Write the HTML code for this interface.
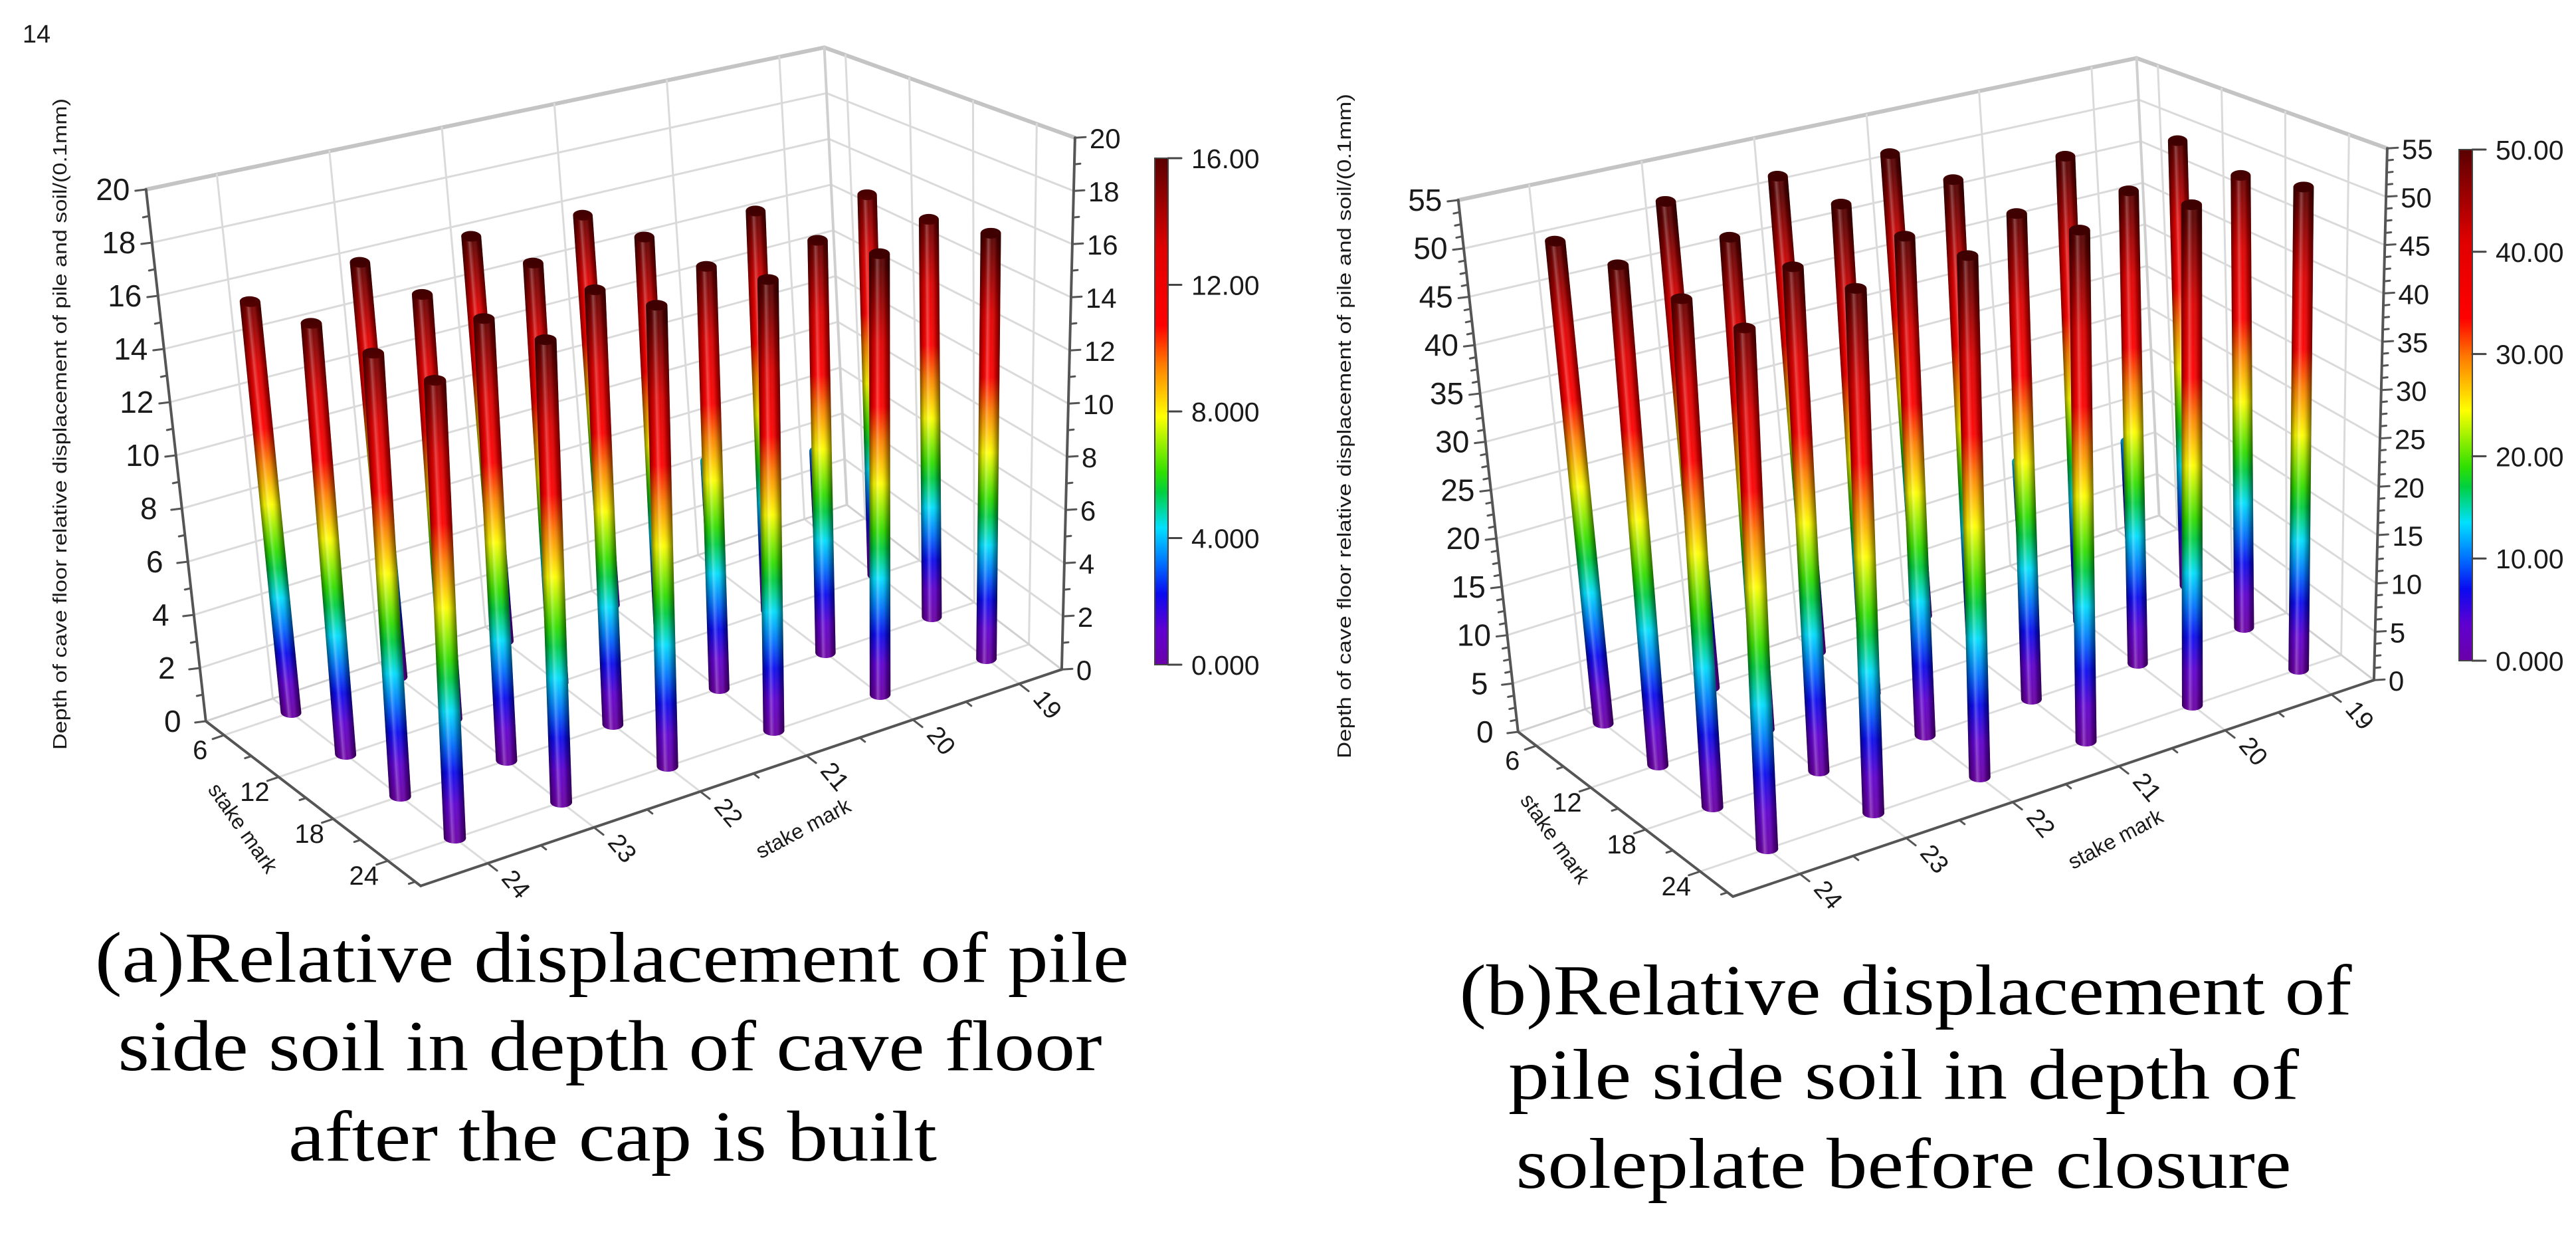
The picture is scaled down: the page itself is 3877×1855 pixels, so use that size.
<!DOCTYPE html>
<html>
<head>
<meta charset="utf-8">
<style>
  html, body { margin: 0; padding: 0; background: #ffffff; }
  svg { display: block; }
  .ax { font-family: "Liberation Sans", "DejaVu Sans", sans-serif; fill: #1a1a1a; }
  .cap { font-family: "Liberation Serif", "DejaVu Serif", serif; fill: #000; }
</style>
</head>
<body>
<svg id="root" width="3877" height="1855" viewBox="0 0 3877 1855" xmlns="http://www.w3.org/2000/svg">
  <defs>
    <linearGradient id="shade" x1="0" y1="0" x2="1" y2="0">
      <stop offset="0" stop-color="#000" stop-opacity="0.5"/>
      <stop offset="0.22" stop-color="#000" stop-opacity="0.08"/>
      <stop offset="0.38" stop-color="#fff" stop-opacity="0.28"/>
      <stop offset="0.55" stop-color="#fff" stop-opacity="0.04"/>
      <stop offset="0.8" stop-color="#000" stop-opacity="0.22"/>
      <stop offset="1" stop-color="#000" stop-opacity="0.55"/>
    </linearGradient>
    <linearGradient id="cbar" x1="0" y1="1" x2="0" y2="0">
      <stop offset="0" stop-color="#6a00a8"/>
      <stop offset="0.07" stop-color="#6000d0"/>
      <stop offset="0.14" stop-color="#0a0af0"/>
      <stop offset="0.2" stop-color="#0070ff"/>
      <stop offset="0.27" stop-color="#00e0ff"/>
      <stop offset="0.34" stop-color="#00d040"/>
      <stop offset="0.38" stop-color="#30e000"/>
      <stop offset="0.49" stop-color="#ffff00"/>
      <stop offset="0.59" stop-color="#ff8000"/>
      <stop offset="0.67" stop-color="#ff0000"/>
      <stop offset="0.82" stop-color="#e00000"/>
      <stop offset="1" stop-color="#5a0000"/>
    </linearGradient>
  </defs>
  <rect x="0" y="0" width="3877" height="1855" fill="#ffffff"/>
  <text class="ax" x="55" y="64" font-size="38" text-anchor="middle">14</text>

  <text class="cap" x="921" y="1477" font-size="108" text-anchor="middle" textLength="1556" lengthAdjust="spacingAndGlyphs">(a)Relative displacement of pile</text>
  <text class="cap" x="918" y="1610" font-size="108" text-anchor="middle" textLength="1481" lengthAdjust="spacingAndGlyphs">side soil in depth of cave floor</text>
  <text class="cap" x="922" y="1746" font-size="108" text-anchor="middle" textLength="976" lengthAdjust="spacingAndGlyphs">after the cap is built</text>

  <text class="cap" x="2868" y="1526" font-size="108" text-anchor="middle" textLength="1343" lengthAdjust="spacingAndGlyphs">(b)Relative displacement of</text>
  <text class="cap" x="2865" y="1653" font-size="108" text-anchor="middle" textLength="1190" lengthAdjust="spacingAndGlyphs">pile side soil in depth of</text>
  <text class="cap" x="2865" y="1787" font-size="108" text-anchor="middle" textLength="1167" lengthAdjust="spacingAndGlyphs">soleplate before closure</text>
</svg>

<script>
// ---- data ----
const stakeU = [6, 12, 18, 24];          // stake mark along front-left axis
const stakeV = [19, 20, 21, 22, 23, 24]; // stake mark along front-right axis

// chart (a): values per u-row, ordered by stakeV
const valsA_u6  = [3.5, 4.5, 15.8, 16.0, 16.0, 15.5];
const valsA_u12 = [15.6, 16.0, 16.0, 16.0, 15.8, 15.7];
const valsA_u18 = [15.7, 15.9, 15.9, 16.0, 15.9, 15.6];
const valsA_u24 = [16.2, 16.4, 16.4, 16.4, 16.1, 15.6];

// chart (b)
const valsB_u6  = [12.0, 13.5, 51.5, 51.7, 51.6, 50.0];
const valsB_u12 = [50.2, 51.2, 51.3, 51.3, 50.4, 50.1];
const valsB_u18 = [49.1, 50.1, 50.3, 50.5, 49.9, 49.2];
const valsB_u24 = [50.5, 51.2, 51.1, 51.0, 50.2, 48.8];

const zTicksA = [0, 2, 4, 6, 8, 10, 12, 14, 16, 18, 20];
const zTicksB = [0, 5, 10, 15, 20, 25, 30, 35, 40, 45, 50, 55];
const cbarLabelsA = ["0.000", "4.000", "8.000", "12.00", "16.00"];
const cbarValuesA = [0, 4, 8, 12, 16];
const cbarLabelsB = ["0.000", "10.00", "20.00", "30.00", "40.00", "50.00"];
const cbarValuesB = [0, 10, 20, 30, 40, 50];

// ---- geometry ----
const NS = "http://www.w3.org/2000/svg";
const svg = document.getElementById("root");
const U_MIN = 4, U_MAX = 27.6, V_MIN = 18.6, V_MAX = 24.63;
const CMAP = [[0,"#6a00a8"],[0.07,"#6000d0"],[0.14,"#0a0af0"],[0.2,"#0070ff"],[0.27,"#00e0ff"],
  [0.34,"#00d040"],[0.38,"#30e000"],[0.49,"#ffff00"],[0.59,"#ff8000"],[0.67,"#ff0000"],[0.82,"#e00000"],[1,"#5a0000"]];

function el(tag, attrs, parent) {
  const e = document.createElementNS(NS, tag);
  for (const k in attrs) e.setAttribute(k, attrs[k]);
  (parent || svg).appendChild(e);
  return e;
}

function makeChart(cfg) {
  const g = el("g", {});
  
  

  const floor = (u, v) => [438 + cfg.ox + (u - 6) * 13.7 + (24 - v) * 160,
                           1072 + cfg.oy + (u - 6) * 10.5 - (24 - v) * 54];
  const hv = (u, v) => {
    const s = (u - U_MIN) / (U_MAX - U_MIN), t = (V_MAX - v) / (V_MAX - V_MIN);
    const wL = (1 - s) * (1 - t), wF = s * (1 - t), wB = (1 - s) * t, wR = s * t;
    const x = -90 * wL - 36 * wF - 34 * wB + 20 * wR;
    const y = -800 * wL - 912 * wF - 688 * wB - 800 * wR;
    return [x / cfg.zmax, y / cfg.zmax];
  };
  const P = (u, v, z) => { const f = floor(u, v), h = hv(u, v); return [f[0] + z * h[0], f[1] + z * h[1]]; };
  const line = (a, b, stroke, w, name) => {
    const l = el("line", {x1: a[0], y1: a[1], x2: b[0], y2: b[1], stroke: stroke, "stroke-width": w, "stroke-linecap": "round"}, g);
    
    
    return l;
  };
  const zmax = cfg.zmax;

  // gridlines on walls and floor
  cfg.zTicks.forEach(z => {
    if (z === 0) return;
    const top = z === zmax;
    line(P(U_MIN, V_MAX, z), P(U_MIN, V_MIN, z), top ? "#c4c4c4" : "#dadada", top ? 6 : 3, "left-wall-gridline");
    line(P(U_MIN, V_MIN, z), P(U_MAX, V_MIN, z), top ? "#c4c4c4" : "#dadada", top ? 6 : 3, "right-wall-gridline");
  });
  stakeV.forEach(v => {
    line(P(U_MIN, v, 0), P(U_MIN, v, zmax), "#dadada", 3, "left-wall-vertical-gridline");
    line(P(U_MIN, v, 0), P(U_MAX, v, 0), "#dcdcdc", 3, "floor-gridline-v");
  });
  stakeU.forEach(u => {
    line(P(u, V_MIN, 0), P(u, V_MIN, zmax), "#dadada", 3, "right-wall-vertical-gridline");
    line(P(u, V_MAX, 0), P(u, V_MIN, 0), "#dcdcdc", 3, "floor-gridline-u");
  });
  line(P(U_MIN, V_MIN, 0), P(U_MIN, V_MIN, zmax), "#cfcfcf", 4, "back-corner-edge");
  line(P(U_MIN, V_MAX, 0), P(U_MIN, V_MIN, 0), "#d0d0d0", 3, "floor-back-left-edge");
  line(P(U_MIN, V_MIN, 0), P(U_MAX, V_MIN, 0), "#d0d0d0", 3, "floor-back-right-edge");

  // axes
  const AX = "#555";
  line(P(U_MIN, V_MAX, 0), P(U_MIN, V_MAX, zmax), AX, 4, "left-z-axis");
  line(P(U_MAX, V_MIN, 0), P(U_MAX, V_MIN, zmax), AX, 4, "right-z-axis");
  line(P(U_MIN, V_MAX, 0), P(U_MAX, V_MAX, 0), AX, 4, "x-axis-stake-left");
  line(P(U_MAX, V_MAX, 0), P(U_MAX, V_MIN, 0), AX, 4, "x-axis-stake-right");

  // z ticks and labels
  for (let z = 0; z <= zmax + 1e-6; z += cfg.zMinor) {
    const a = P(U_MIN, V_MAX, z), b = P(U_MAX, V_MIN, z);
    const major = cfg.zTicks.some(t => Math.abs(t - z) < 1e-6);
    const len = major ? 16 : 9;
    line(a, [a[0] - len, a[1] + 2], AX, 3, "left-z-tick");
    line(b, [b[0] + len, b[1] - 1], AX, 3, "right-z-tick");
  }
  cfg.zTicks.forEach(z => {
    const a = P(U_MIN, V_MAX, z), b = P(U_MAX, V_MIN, z);
    const t1 = el("text", {x: a[0] - 50, y: a[1] + 16, "font-size": 46, "text-anchor": "middle", class: "ax"}, g);
    t1.textContent = String(z);
    
    
    const t2 = el("text", {x: b[0] + 22, y: b[1] + 16, "font-size": 42, "text-anchor": "start", class: "ax"}, g);
    t2.textContent = String(z);
    
    
  });

  // u axis ticks (front-left edge)
  for (let u = 6; u <= 27; u += 3) {
    const p = P(u, V_MAX, 0);
    const major = stakeU.includes(u);
    const len = major ? 18 : 10;
    line(p, [p[0] - len * 0.95, p[1] + len * 0.32], AX, 3, "stake-u-tick");
  }
  stakeU.forEach(u => {
    const p = P(u, V_MAX, 0);
    const t = el("text", {x: p[0] - 36, y: p[1] + 36, "font-size": 40, "text-anchor": "middle", class: "ax"}, g);
    t.textContent = String(u);
    
    
  });
  // v axis ticks (front-right edge)
  for (let v = 19; v <= 24.01; v += 0.5) {
    const p = P(U_MAX, v, 0);
    const major = Math.abs(v - Math.round(v)) < 1e-6;
    const len = major ? 18 : 10;
    line(p, [p[0] + len * 0.79, p[1] + len * 0.61], AX, 3, "stake-v-tick");
  }
  stakeV.forEach(v => {
    const p = P(U_MAX, v, 0);
    const x = p[0] + 42, y = p[1] + 44;
    const t = el("text", {x: x, y: y, "font-size": 38, "text-anchor": "middle", transform: `rotate(50 ${x} ${y - 12})`, class: "ax"}, g);
    t.textContent = String(v);
    
    
  });
  // axis titles
  const lt = P(14, V_MAX, 0);
  const lx = lt[0] - 90, ly = lt[1] + 62;
  const st1 = el("text", {x: lx, y: ly, "font-size": 32, "text-anchor": "middle", transform: `rotate(55 ${lx} ${ly})`, class: "ax"}, g);
  st1.textContent = "stake mark";
  
  
  const rt = P(U_MAX, 21.5, 0);
  const rx = rt[0] + 80, ry = rt[1] + 92;
  const st2 = el("text", {x: rx, y: ry, "font-size": 32, "text-anchor": "middle", transform: `rotate(-28 ${rx} ${ry})`, class: "ax"}, g);
  st2.textContent = "stake mark";
  
  
  const zt = el("text", {x: cfg.titleX, y: cfg.titleY, "font-size": 29, "text-anchor": "middle",
    transform: `rotate(-90 ${cfg.titleX} ${cfg.titleY})`, textLength: cfg.titleLen, lengthAdjust: "spacingAndGlyphs", class: "ax"}, g);
  zt.textContent = "Depth of cave floor relative displacement of pile and soil/(0.1mm)";
  
  

  // colormap gradient in pile-local (value) units
  const gid = "cm_" + cfg.name;
  const lg = el("linearGradient", {id: gid, gradientUnits: "userSpaceOnUse", x1: 0, y1: 0, x2: 0, y2: cfg.cmax}, svg.querySelector("defs"));
  CMAP.forEach(s => el("stop", {offset: s[0], "stop-color": s[1]}, lg));

  // piles
  const piles = [];
  stakeU.forEach((u, i) => stakeV.forEach((v, j) => piles.push({u: u, v: v, z: cfg.values[i][j]})));
  piles.sort((a, b) => floor(a.u, a.v)[1] - floor(b.u, b.v)[1]);
  piles.forEach(p => {
    const f = floor(p.u, p.v), h = hv(p.u, p.v);
    const s = (p.u - U_MIN) / (U_MAX - U_MIN), t = (V_MAX - p.v) / (V_MAX - V_MIN);
    const w = 28 + 6 * (s - t + 1) / 2;
    const pg = el("g", {transform: `matrix(1,0,${h[0]},${h[1]},${f[0]},${f[1]})`}, g);
    
    
    const ry = 8 / Math.abs(h[1]);
    el("ellipse", {cx: 0, cy: 0, rx: w / 2, ry: ry, fill: `url(#${gid})`}, pg);
    el("ellipse", {cx: 0, cy: 0, rx: w / 2, ry: ry, fill: "url(#shade)"}, pg);
    const body = el("rect", {x: -w / 2, y: 0, width: w, height: p.z, fill: `url(#${gid})`}, pg);
    
    
    el("rect", {x: -w / 2, y: 0, width: w, height: p.z, fill: "url(#shade)"}, pg);
    const top = el("ellipse", {cx: 0, cy: p.z, rx: w / 2, ry: ry, fill: `url(#${gid})`}, pg);
    
    
    el("ellipse", {cx: 0, cy: p.z, rx: w / 2, ry: ry, fill: "#000", "fill-opacity": 0.3}, pg);
  });

  // colorbar
  const cb = el("g", {}, g);
  
  
  const bar = el("rect", {x: cfg.cbX, y: cfg.cbTop, width: 20, height: cfg.cbBot - cfg.cbTop, fill: "url(#cbar)", stroke: "#444", "stroke-width": 2}, cb);
  
  
  const cy = val => cfg.cbBot - (val / cfg.cmax) * (cfg.cbBot - cfg.cbTop);
  cfg.cbValues.forEach((val, k) => {
    const y = cy(val);
    line([cfg.cbX + 20, y], [cfg.cbX + 40, y], "#444", 3, "colorbar-tick");
    const t = el("text", {x: cfg.cbX + 55, y: y + 15, "font-size": 41, class: "ax"}, cb);
    t.textContent = cfg.cbLabels[k];
    
    
  });
}

makeChart({name: "chart-a", ox: 0, oy: 0, zmax: 20, zMinor: 1, zTicks: zTicksA,
  values: [valsA_u6, valsA_u12, valsA_u18, valsA_u24], cmax: 16,
  cbX: 1738, cbTop: 238, cbBot: 1000, cbValues: cbarValuesA, cbLabels: cbarLabelsA,
  titleX: 100, titleY: 638, titleLen: 980});
makeChart({name: "chart-b", ox: 1975, oy: 16, zmax: 55, zMinor: 1.25, zTicks: zTicksB,
  values: [valsB_u6, valsB_u12, valsB_u18, valsB_u24], cmax: 50,
  cbX: 3701, cbTop: 225, cbBot: 994, cbValues: cbarValuesB, cbLabels: cbarLabelsB,
  titleX: 2033, titleY: 641, titleLen: 1000});
</script>
</body>
</html>
